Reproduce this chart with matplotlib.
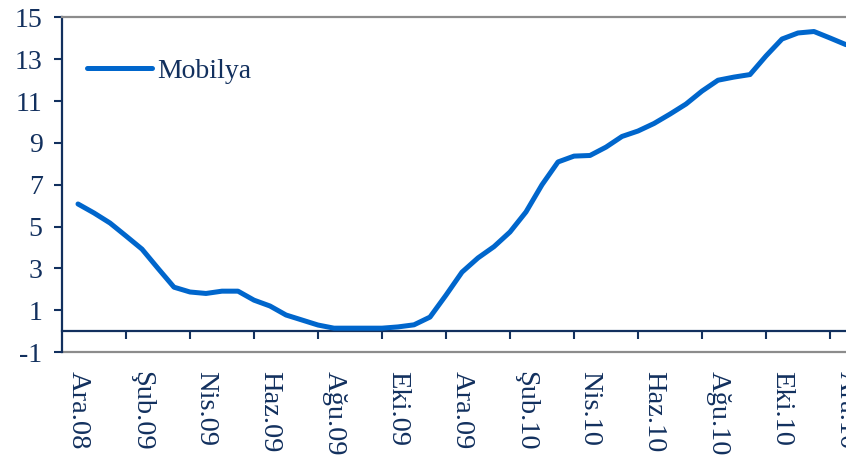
import matplotlib
matplotlib.use("Agg")
import matplotlib.pyplot as plt
from matplotlib.ticker import FixedLocator

# month index (0 = Ara.08), sampled every half month
months = [i / 2 for i in range(49)]
mobilya = [6.08, 5.65, 5.17, 4.55, 3.92, 3.00, 2.10, 1.87, 1.80, 1.91,
           1.91, 1.48, 1.20, 0.77, 0.53, 0.29, 0.14, 0.14, 0.14, 0.14,
           0.20, 0.30, 0.67, 1.72, 2.82, 3.50, 4.04, 4.74, 5.70, 7.00,
           8.09, 8.37, 8.40, 8.80, 9.31, 9.57, 9.93, 10.38, 10.86, 11.48,
           12.00, 12.15, 12.27, 13.16, 13.97, 14.26, 14.33, 14.02, 13.70]

tick_labels = ['Ara.08', 'Şub.09', 'Nis.09', 'Haz.09', 'Ağu.09', 'Eki.09', 'Ara.09',
               'Şub.10', 'Nis.10', 'Haz.10', 'Ağu.10', 'Eki.10', 'Ara.10']
label_pos = list(range(0, 25, 2))
tick_marks = [i + 1.5 for i in range(0, 24, 2)]
yticks = list(range(-1, 16, 2))

navy = '#12305e'
blue = '#0066cc'
grey = '#8c8c8c'

plt.rcParams['font.family'] = ['Liberation Serif', 'DejaVu Serif']
plt.rcParams['axes.unicode_minus'] = False

fig = plt.figure(figsize=(8.46, 4.65), dpi=100)
ax = fig.add_axes([62 / 846, (465 - 352) / 465, 800 / 846, (352 - 17.5) / 465])

ax.plot(months, mobilya, color=blue, lw=3.6, solid_capstyle='round',
        solid_joinstyle='round', label='Mobilya', zorder=3)

ax.set_xlim(-0.5, 24.5)
ax.set_ylim(-1, 15)

# spines
ax.spines['right'].set_visible(False)
ax.spines['top'].set_color(grey)
ax.spines['top'].set_linewidth(1.6)
ax.spines['left'].set_color(navy)
ax.spines['left'].set_linewidth(1.6)
ax.spines['bottom'].set_position(('data', 0))
ax.spines['bottom'].set_color(navy)
ax.spines['bottom'].set_linewidth(1.6)
ax.axhline(-1, color=grey, lw=1.6, clip_on=False, zorder=1)

# y axis
ax.set_yticks(yticks)
ax.tick_params(axis='y', direction='out', length=6, width=1.5, color=navy,
               labelcolor=navy, labelsize=20, pad=8)

# x axis: labels on major ticks (no marks), marks on minor ticks
ax.xaxis.set_major_locator(FixedLocator(label_pos))
ax.xaxis.set_minor_locator(FixedLocator(tick_marks))
ax.set_xticklabels(tick_labels, rotation=270)
ax.tick_params(axis='x', which='major', length=0, labelcolor=navy,
               labelsize=20.5, pad=29)
ax.tick_params(axis='x', which='minor', direction='out', length=6, width=1.5,
               color=navy)

leg = ax.legend(loc='center left', bbox_to_anchor=(0.031, 0.84), frameon=False,
                borderpad=0, borderaxespad=0, handlelength=2.35, handletextpad=0.18,
                fontsize=20)
for t in leg.get_texts():
    t.set_color(navy)

fig.savefig('out.png', dpi=100)
